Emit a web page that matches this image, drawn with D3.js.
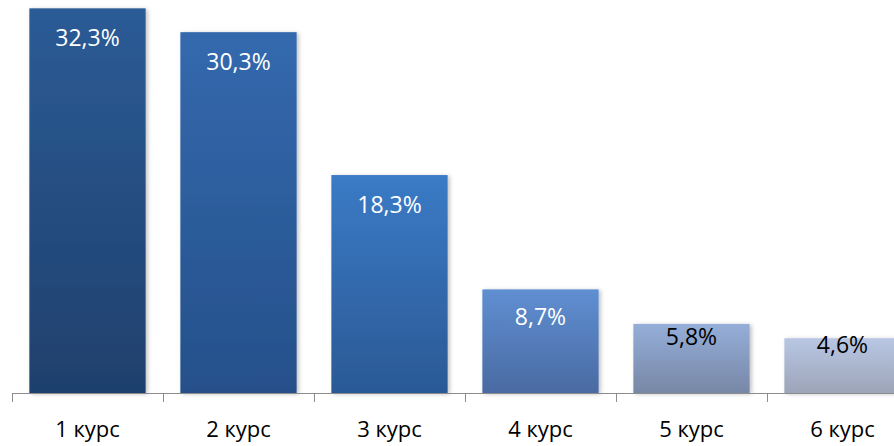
<!DOCTYPE html>
<html>
<head>
<meta charset="utf-8">
<script src="https://cdn.jsdelivr.net/npm/d3@7"></script>
<style>
  body { margin: 0; background: #fff; }
  text { font-family: "Open Sans", sans-serif; }
</style>
</head>
<body>
<script>
// data
var categories = ["1 курс", "2 курс", "3 курс", "4 курс", "5 курс", "6 курс"];
var values = [32.3, 30.3, 18.3, 8.7, 5.8, 4.6];
var labels = ["32,3%", "30,3%", "18,3%", "8,7%", "5,8%", "4,6%"];

var colorsTop = ["#2c5b96", "#3469ae", "#3a7bc6", "#5f8fd2", "#95aed9", "#b9c7e4"];
var colorsBottom = ["#1f406c", "#25508a", "#2b5995", "#4a6aa2", "#7787a6", "#9ca4b8"];
var labelColors = ["#fff", "#fff", "#fff", "#fff", "#000", "#000"];

draw_chart();

function draw_chart() {
    var w = 894;
    var h = 446;
    var left = 12;
    var bottom = 393;
    var step = 151;

    var svg = d3.select("body")
        .append("svg")
        .attr("width", w)
        .attr("height", h);

    var defs = svg.append("defs");
    categories.forEach(function(c, i) {
        var g = defs.append("linearGradient")
            .attr("id", "grad" + i)
            .attr("x1", 0).attr("y1", 0)
            .attr("x2", 0).attr("y2", 1);
        g.append("stop").attr("offset", "0%").attr("stop-color", colorsTop[i]);
        g.append("stop").attr("offset", "100%").attr("stop-color", colorsBottom[i]);
    });
    var f = defs.append("filter").attr("id", "shadow")
        .attr("x", "-10%").attr("y", "-10%").attr("width", "130%").attr("height", "120%");
    f.append("feDropShadow")
        .attr("dx", 2).attr("dy", 1).attr("stdDeviation", 2)
        .attr("flood-color", "#000").attr("flood-opacity", 0.25);

    var x = d3.scaleBand()
        .domain(categories)
        .range([left, left + step * categories.length])
        .paddingInner(0.23)
        .paddingOuter(0.115);

    var y = d3.scaleLinear()
        .domain([0, 33])
        .range([bottom, 0]);

    svg.selectAll("rect.bar")
        .data(values)
        .enter()
        .append("rect")
        .attr("class", "bar")
        .attr("x", function(d, i) { return x(categories[i]); })
        .attr("y", function(d) { return y(d); })
        .attr("width", x.bandwidth())
        .attr("height", function(d) { return bottom - y(d); })
        .attr("fill", function(d, i) { return "url(#grad" + i + ")"; })
        .attr("filter", "url(#shadow)");

    // axis line with ticks between categories
    svg.append("line")
        .attr("x1", left).attr("x2", w)
        .attr("y1", bottom + 0.5).attr("y2", bottom + 0.5)
        .attr("stroke", "#8c8c8c").attr("stroke-width", 1);

    svg.selectAll("line.tick")
        .data(d3.range(categories.length + 1))
        .enter()
        .append("line")
        .attr("class", "tick")
        .attr("x1", function(d) { return left + d * step + 0.5; })
        .attr("x2", function(d) { return left + d * step + 0.5; })
        .attr("y1", bottom)
        .attr("y2", bottom + 9)
        .attr("stroke", "#8c8c8c");

    svg.selectAll("text.cat")
        .data(categories)
        .enter()
        .append("text")
        .attr("class", "cat")
        .attr("x", function(d) { return x(d) + x.bandwidth() / 2; })
        .attr("y", 437)
        .attr("text-anchor", "middle")
        .style("font-size", "22px")
        .style("fill", "#000")
        .text(function(d) { return d; });

    svg.selectAll("text.val")
        .data(values)
        .enter()
        .append("text")
        .attr("class", "val")
        .attr("x", function(d, i) { return x(categories[i]) + x.bandwidth() / 2; })
        .attr("y", function(d) {
            var bh = bottom - y(d);
            return y(d) + Math.min(38, 0.43 * bh - 9);
        })
        .attr("text-anchor", "middle")
        .style("font-size", "23px")
        .style("fill", function(d, i) { return labelColors[i]; })
        .text(function(d, i) { return labels[i]; });
}
</script>
</body>
</html>
